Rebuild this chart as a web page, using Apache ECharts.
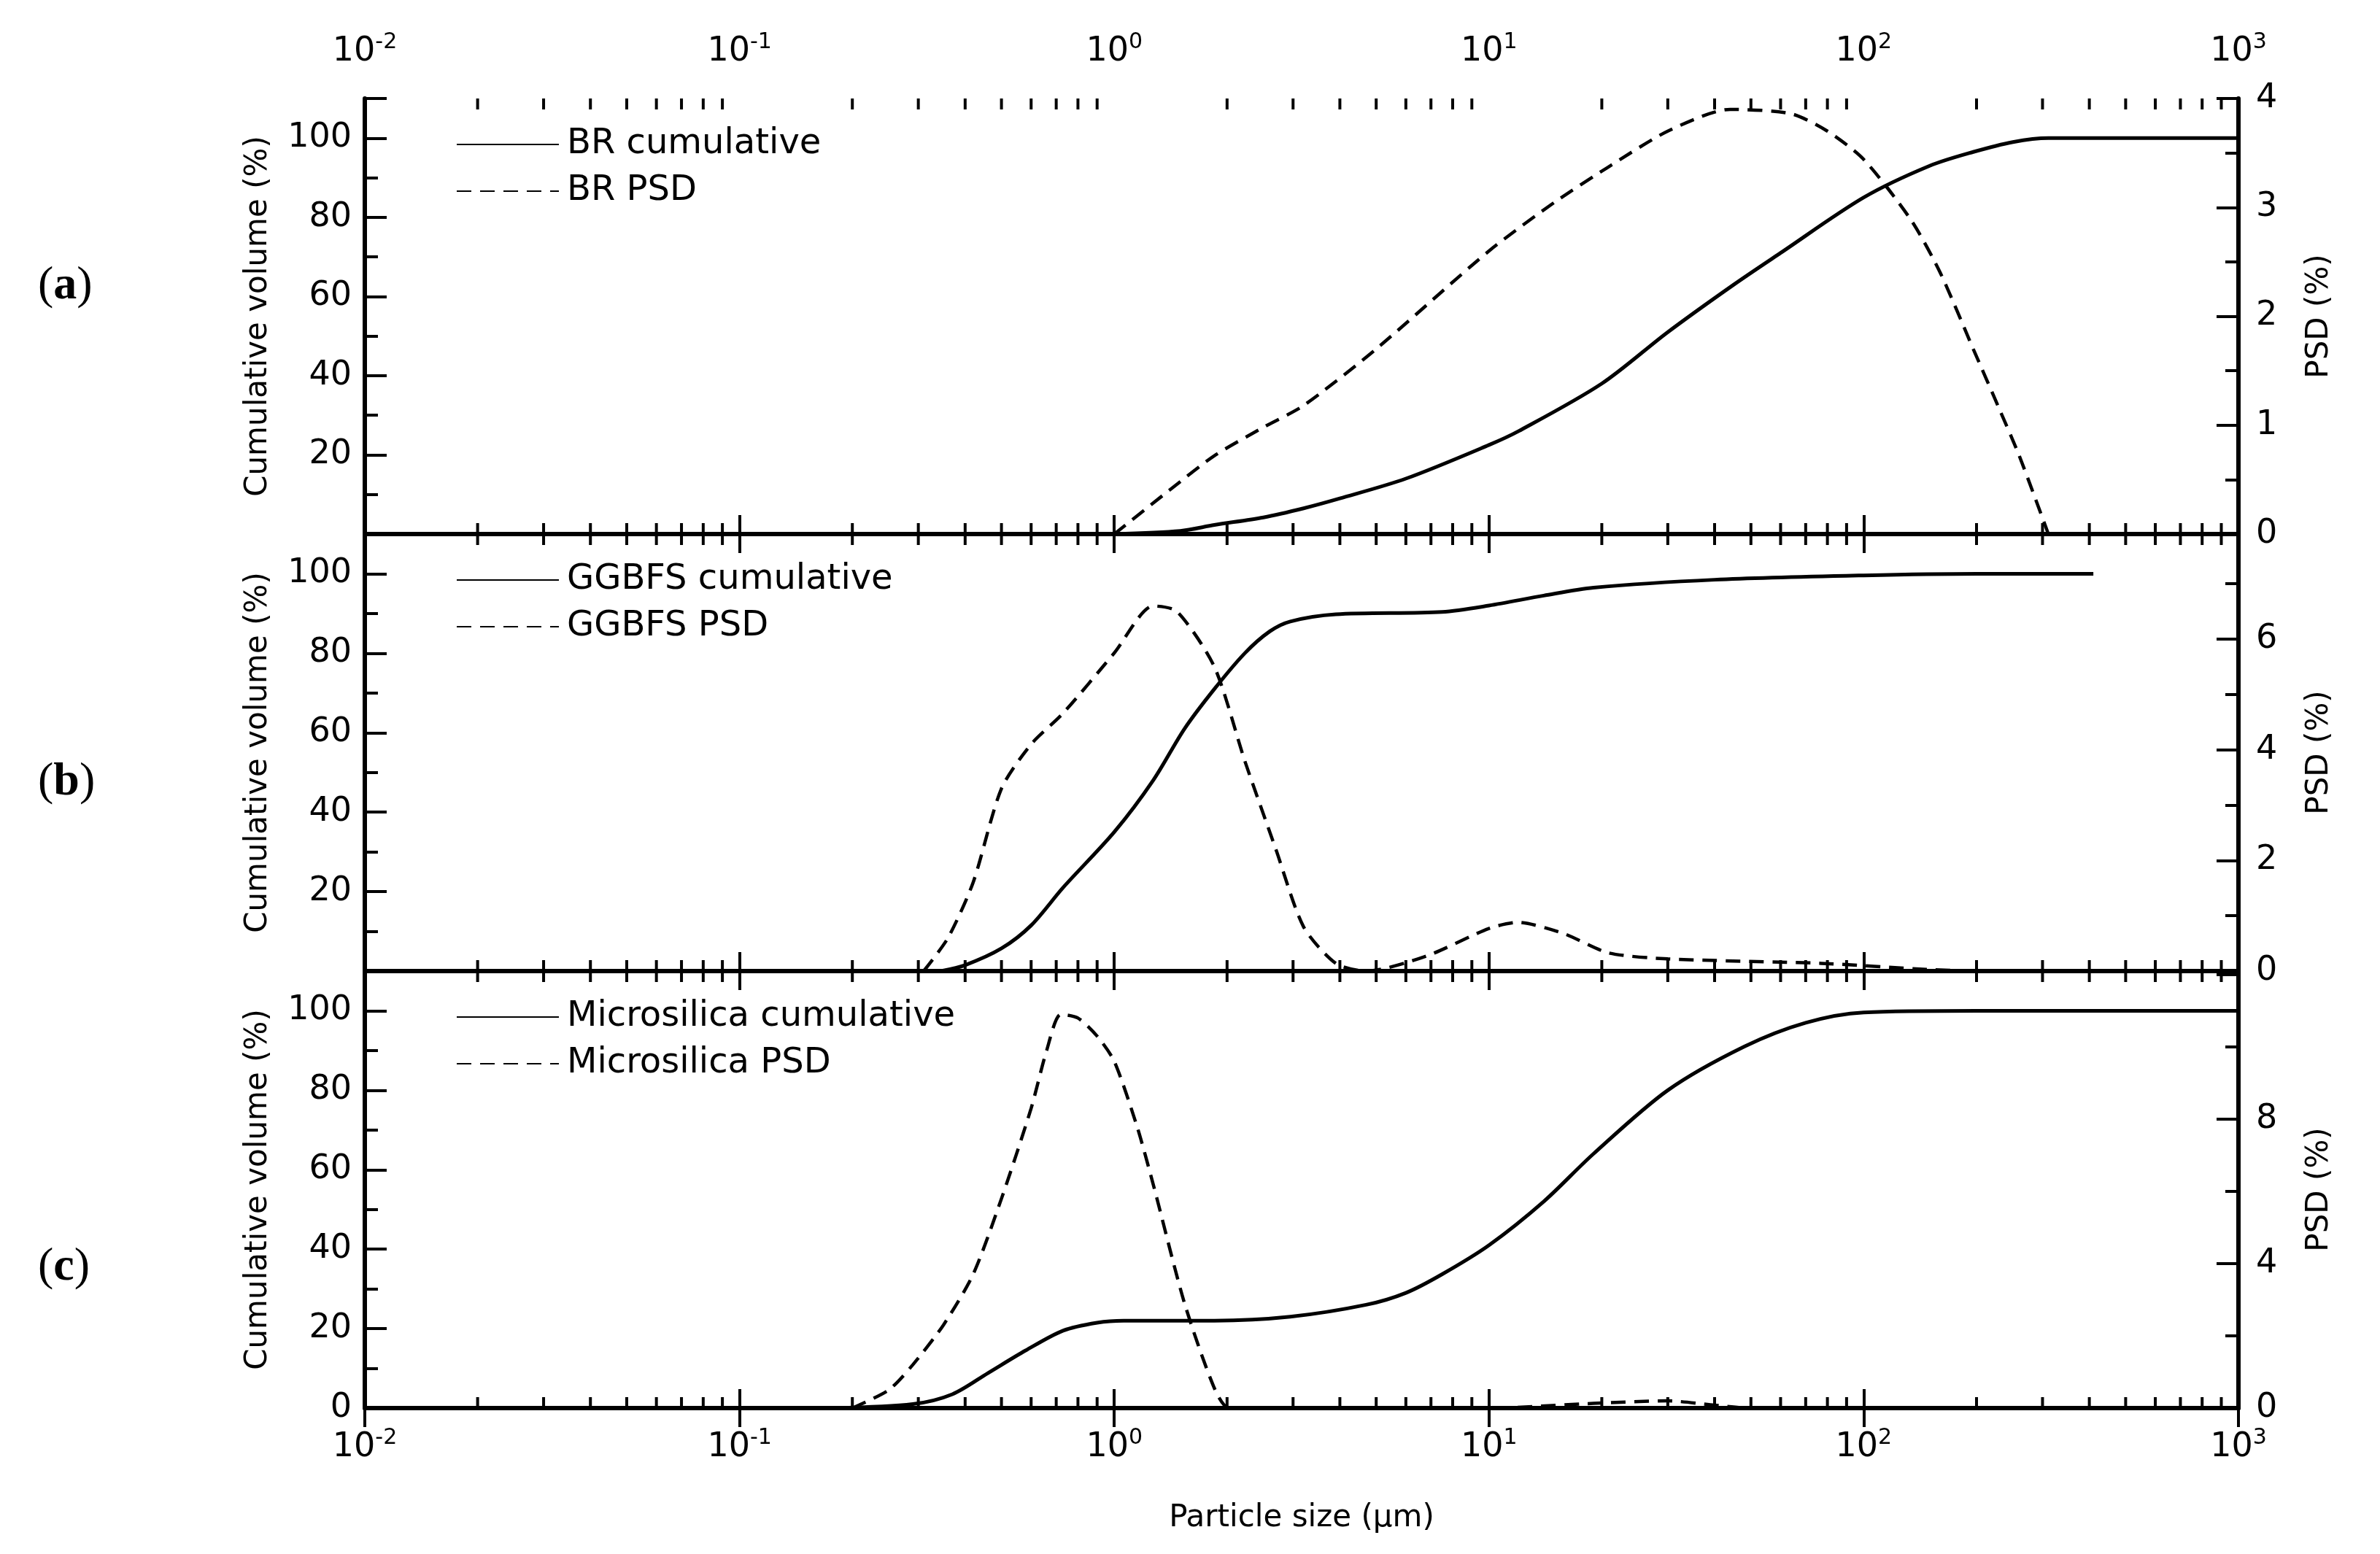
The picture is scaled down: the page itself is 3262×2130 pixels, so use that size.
<!DOCTYPE html>
<html><head><meta charset="utf-8">
<script src="https://cdn.jsdelivr.net/npm/echarts@6/dist/echarts.min.js"></script>
<style>html,body{margin:0;padding:0;background:#fff}#c{width:3262px;height:2130px}</style>
</head><body><div id="c"></div>
<script>
// ---- data (x in µm, y in %) ----
const brCum = [[1,0],[1.5,0.8],[1.85,2.3],[2.5,4.2],[3.2,6.5],[4,9],[6,14],[10,22.5],[12,26],[20,38],[30,51],[45,63],[60,71],[100,85],[150,93],[196,96.5],[250,99],[311,100],[1000,100]];
const brPsd = [[1,0],[1.4,0.4],[1.85,0.72],[2.5,0.98],[3.2,1.18],[5,1.7],[10,2.6],[15,3.05],[20.8,3.37],[30,3.7],[44,3.9],[64,3.86],[80,3.7],[100,3.44],[134,2.88],[160,2.4],[196,1.7],[230,1.15],[260,0.72],[311,0]];
const ggCum = [[0.345,0],[0.4,1.5],[0.5,5.7],[0.6,11.5],[0.73,21],[1,35],[1.27,48],[1.54,61],[1.85,71],[2.23,80],[2.6,85.5],[2.95,88],[3.9,89.8],[7.5,90.4],[10,92],[14,94.5],[19,96.5],[40,98.5],[100,99.6],[200,100],[410,100]];
const ggPsd = [[0.31,0],[0.36,0.6],[0.42,1.6],[0.5,3.3],[0.6,4.1],[0.73,4.66],[1,5.75],[1.27,6.6],[1.47,6.5],[1.85,5.5],[2.23,3.8],[2.7,2.2],[3.2,0.8],[3.9,0.14],[4.7,0],[6.8,0.27],[10,0.77],[11.9,0.88],[15.8,0.68],[20.8,0.33],[30,0.22],[77,0.14],[147,0.03],[200,0],[1000,0]];
const msCum = [[0.18,0],[0.29,1],[0.37,3.5],[0.46,8.8],[0.58,14.5],[0.73,19.5],[0.9,21.5],[1.06,22],[1.85,22],[2.95,23],[4.7,26],[6,29],[7.5,33.7],[10,41],[14,52],[19,64],[30,80],[48,91],[70,97],[100,99.6],[200,100],[1000,100]];
const msPsd = [[0.2,0],[0.25,0.5],[0.29,1.2],[0.35,2.3],[0.42,3.7],[0.5,5.8],[0.6,8.3],[0.66,9.9],[0.72,10.9],[0.8,10.8],[0.9,10.3],[1.0,9.6],[1.15,7.8],[1.27,6.2],[1.54,2.9],[1.85,0.55],[2.03,0],[10,0],[19,0.13],[30,0.2],[40,0.08],[50,0],[1000,0]];
const xDecades = [0.01,0.1,1,10,100];
const xMult = [2,3,4,5,6,7,8,9];
const panelLabels = ['a','b','c'];
const legendNames = [['BR cumulative','BR PSD'],['GGBFS cumulative','GGBFS PSD'],['Microsilica cumulative','Microsilica PSD']];
const rightMax = [4,7.9,12.1];
const rightLabelMax = [4,6,8];
const rightInterval = [1,2,4];

const minorX = [];
xDecades.forEach(d=>xMult.forEach(m=>minorX.push([m*d,50])));

const F = 'DejaVu Sans';
const grids = [{top:135,height:597},{top:732,height:599},{top:1331,height:599}];
const sup = {b:{fontSize:46,fontFamily:F,color:'#000'},s:{fontSize:30,fontFamily:F,color:'#000',verticalAlign:'top',padding:[0,0,26,0]}};
function xfmt(v){const e=Math.round(Math.log10(v));return '{b|10}{s|'+e+'}';}
const axLine={lineStyle:{color:'#000',width:6}};
const option={animation:false,backgroundColor:'#fff',grid:[],xAxis:[],yAxis:[],series:[],legend:[],graphic:[]};
const cumData=[brCum,ggCum,msCum], psdData=[brPsd,ggPsd,msPsd];
for(let i=0;i<3;i++){
  option.grid.push({left:500,right:194,top:grids[i].top,height:grids[i].height});
  ['bottom','top'].forEach(pos=>{
    const showLab=(i===0&&pos==='top')||(i===2&&pos==='bottom');
    option.xAxis.push({type:'log',logBase:10,min:0.01,max:1000,gridIndex:i,position:pos,
      axisLine:axLine,axisTick:{inside:true,length:26,lineStyle:{color:'#000',width:4}},
      splitLine:{show:false},
      axisLabel:{show:showLab,formatter:xfmt,rich:sup,margin:pos==='top'?36:26},
      name:(i===2&&pos==='bottom')?'Particle size (μm)':'',nameLocation:'middle',nameGap:130,
      nameTextStyle:{fontSize:42,fontFamily:F,color:'#000'}});
  });
  const lm=rightLabelMax[i];
  option.yAxis.push({type:'value',gridIndex:i,position:'left',min:0,max:110,interval:20,
    axisLine:axLine,axisTick:{inside:true,length:30,lineStyle:{color:'#000',width:4}},
    minorTick:{show:true,splitNumber:2,length:18,lineStyle:{color:'#000',width:4}},
    splitLine:{show:false},
    axisLabel:{showMinLabel:i===2,showMaxLabel:false,fontSize:46,fontFamily:F,color:'#000',margin:18},
    name:'Cumulative volume (%)',nameLocation:'middle',nameGap:125,nameRotate:90,
    nameTextStyle:{fontSize:42,fontFamily:F,color:'#000'}});
  option.yAxis.push({type:'value',gridIndex:i,position:'right',min:0,max:rightMax[i],interval:rightInterval[i],
    axisLine:axLine,axisTick:{inside:true,length:30,lineStyle:{color:'#000',width:4}},
    minorTick:{show:true,splitNumber:2,length:18,lineStyle:{color:'#000',width:4}},
    splitLine:{show:false},
    axisLabel:{showMaxLabel:true,fontSize:46,fontFamily:F,color:'#000',margin:24,formatter:v=>v>lm?'':String(v)},
    name:'PSD (%)',nameLocation:'middle',nameGap:90,nameRotate:90,
    nameTextStyle:{fontSize:42,fontFamily:F,color:'#000'}});
  option.series.push({name:legendNames[i][0],type:'line',xAxisIndex:2*i,yAxisIndex:2*i,data:cumData[i],smooth:0.3,showSymbol:false,symbol:'none',
    lineStyle:{color:'#000',width:5,type:'solid'},itemStyle:{color:'#000'}});
  option.series.push({name:legendNames[i][1],type:'line',xAxisIndex:2*i,yAxisIndex:2*i+1,data:psdData[i],smooth:0.25,showSymbol:false,symbol:'none',
    lineStyle:{color:'#000',width:4.5,type:[20,12]},itemStyle:{color:'#000'}});
  option.series.push({type:'custom',xAxisIndex:2*i,yAxisIndex:2*i,data:minorX,silent:true,clip:false,z:5,
    renderItem:function(params,api){
      const x=api.coord([api.value(0),api.value(1)])[0];
      const cs=params.coordSys;const st={stroke:'#000',lineWidth:4};
      return {type:'group',children:[
        {type:'line',shape:{x1:x,y1:cs.y,x2:x,y2:cs.y+15},style:st},
        {type:'line',shape:{x1:x,y1:cs.y+cs.height-15,x2:x,y2:cs.y+cs.height},style:st}]};
    }});
  option.legend.push({data:legendNames[i],orient:'vertical',left:620,top:grids[i].top+34,itemWidth:140,itemHeight:20,itemGap:16,
    itemStyle:{opacity:0},
    textStyle:{fontSize:48,fontFamily:F,color:'#000',padding:[0,0,0,6]},selectedMode:false});
  option.graphic.push({type:'text',left:52,top:[360,1040,1705][i],
    style:{text:'{p|(}{l|'+panelLabels[i]+'}{p|)}',rich:{p:{fontSize:64,fontFamily:'Liberation Serif',fill:'#000'},l:{fontSize:64,fontFamily:'Liberation Serif',fontWeight:'bold',fill:'#000'}}}});
}
const chart=echarts.init(document.getElementById('c'));
chart.setOption(option);
</script></body></html>
